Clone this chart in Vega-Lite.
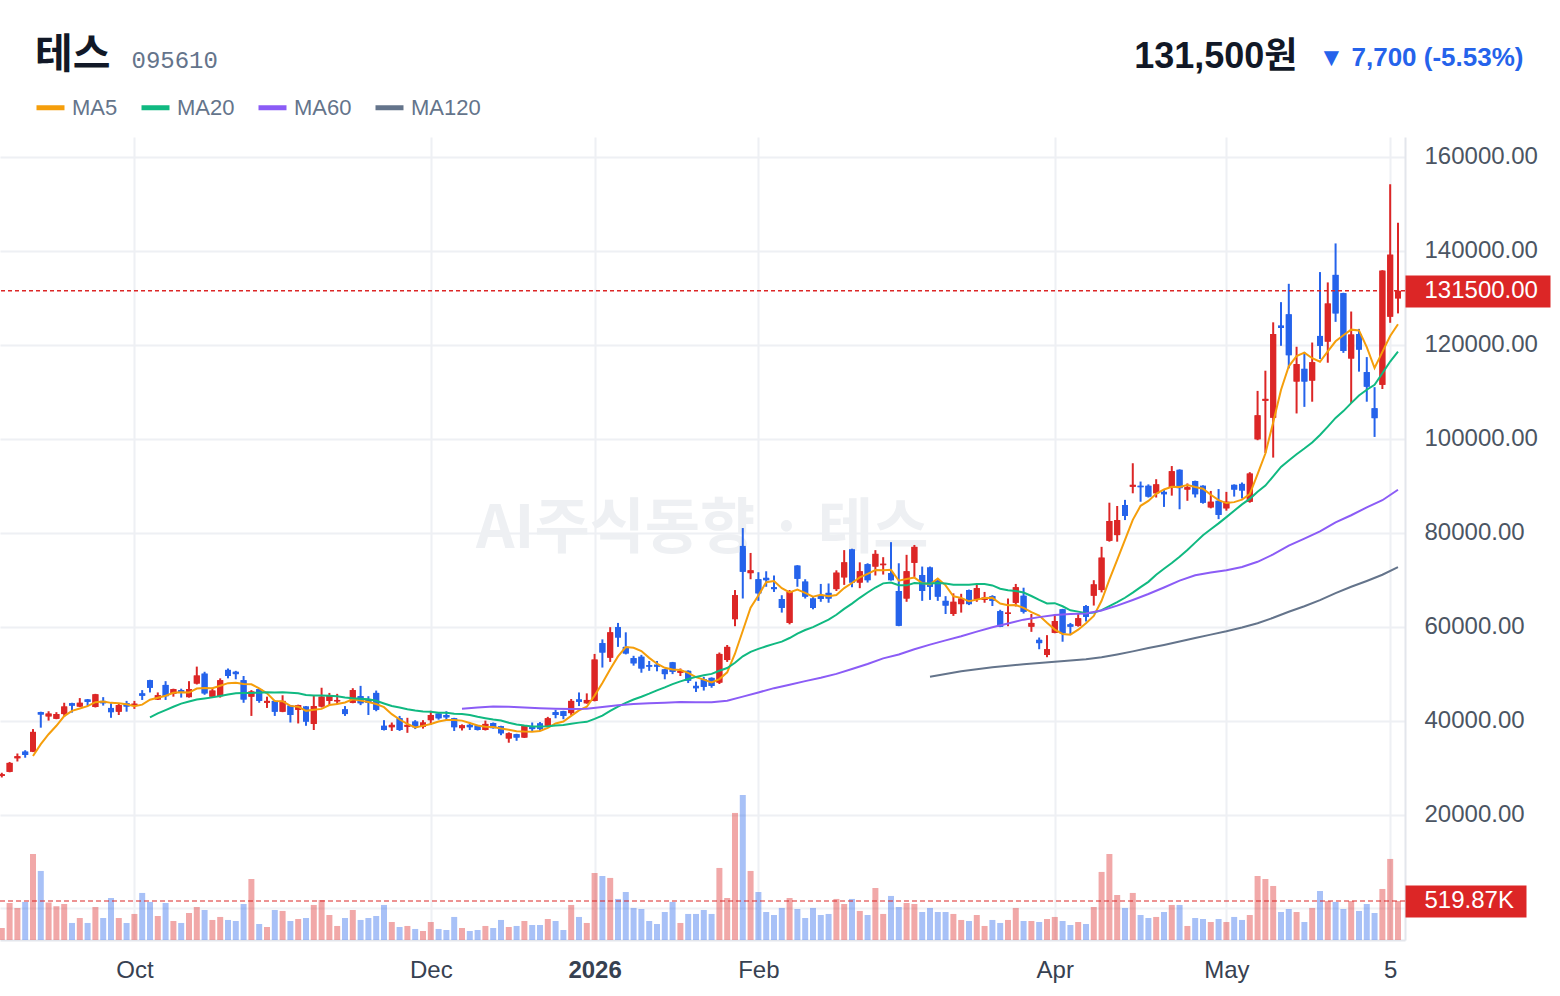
{
  "$schema": "https://vega.github.io/schema/vega-lite/v6.json",
  "width": 1405,
  "height": 803,
  "autosize": {"type": "none"},
  "padding": {"left": 0, "top": 137, "right": 155, "bottom": 56},
  "background": "#ffffff",
  "config": {
    "view": {"stroke": null},
    "font": "Liberation Sans, Noto Sans CJK KR, sans-serif",
    "axisX": {
      "labelFont": "Liberation Sans",
      "labelFontSize": 24,
      "labelColor": "#374151",
      "labelPadding": 18,
      "labelOverlap": false,
      "labelFlush": false,
      "ticks": false,
      "grid": true,
      "gridColor": "#eef0f4",
      "gridWidth": 2,
      "domain": true,
      "domainColor": "#e3e6ec",
      "domainWidth": 2
    }
  },
  "title": {
    "text": "테스",
    "anchor": "start",
    "frame": "group",
    "dx": 35,
    "dy": 71,
    "offset": 0,
    "baseline": "alphabetic",
    "font": "Noto Sans CJK KR",
    "fontSize": 41,
    "fontWeight": "bold",
    "color": "#111827"
  },
  "datasets": {
    "d": [
      {"k":0,"o":28200,"h":28900,"l":27900,"c":28600,"v":160000},
      {"k":1,"o":29100,"h":31200,"l":29000,"c":31000,"v":493000},
      {"k":2,"o":32000,"h":33000,"l":31300,"c":32400,"v":427000},
      {"k":3,"o":33400,"h":33700,"l":32100,"c":32700,"v":507000},
      {"k":4,"o":33400,"h":38200,"l":33300,"c":37600,"v":1146000,"MA5":32460},
      {"k":5,"o":41800,"h":41900,"l":38500,"c":41300,"v":920000,"MA5":35000},
      {"k":6,"o":40900,"h":42000,"l":40000,"c":41500,"v":500000,"MA5":37100},
      {"k":7,"o":40400,"h":41800,"l":40300,"c":41400,"v":450000,"MA5":38900},
      {"k":8,"o":41400,"h":43800,"l":40800,"c":43000,"v":480000,"MA5":40960},
      {"k":9,"o":43700,"h":43800,"l":41700,"c":43200,"v":227000,"MA5":42080},
      {"k":10,"o":43000,"h":44800,"l":42900,"c":43800,"v":293000,"MA5":42580},
      {"k":11,"o":44500,"h":44600,"l":43100,"c":44000,"v":227000,"MA5":43080},
      {"k":12,"o":42900,"h":45700,"l":42800,"c":45600,"v":440000,"MA5":43920},
      {"k":13,"o":44200,"h":45000,"l":43200,"c":43700,"v":293000,"MA5":44060},
      {"k":14,"o":42700,"h":43700,"l":40600,"c":41800,"v":560000,"MA5":43780},
      {"k":15,"o":41900,"h":43700,"l":41200,"c":43300,"v":293000,"MA5":43680},
      {"k":16,"o":43700,"h":44200,"l":41900,"c":43000,"v":227000,"MA5":43480},
      {"k":17,"o":43200,"h":44200,"l":42500,"c":43600,"v":347000,"MA5":43080},
      {"k":18,"o":45800,"h":46500,"l":44400,"c":45300,"v":627000,"MA5":43400},
      {"k":19,"o":48600,"h":48700,"l":46000,"c":47000,"v":507000,"MA5":44440,"MA20":40690},
      {"k":20,"o":44500,"h":46000,"l":44400,"c":45400,"v":320000,"MA5":44860,"MA20":41530},
      {"k":21,"o":47600,"h":48400,"l":44400,"c":45200,"v":493000,"MA5":45300,"MA20":42240},
      {"k":22,"o":45700,"h":46800,"l":45100,"c":46700,"v":253000,"MA5":45920,"MA20":42955},
      {"k":23,"o":46500,"h":46800,"l":44900,"c":45900,"v":227000,"MA5":46040,"MA20":43615},
      {"k":24,"o":45000,"h":48400,"l":44900,"c":46700,"v":360000,"MA5":45980,"MA20":44070},
      {"k":25,"o":47900,"h":51500,"l":47700,"c":49600,"v":440000,"MA5":46820,"MA20":44485},
      {"k":26,"o":50000,"h":50400,"l":45500,"c":45800,"v":400000,"MA5":46940,"MA20":44700},
      {"k":27,"o":45100,"h":47000,"l":44900,"c":46400,"v":267000,"MA5":46880,"MA20":44950},
      {"k":28,"o":45200,"h":49000,"l":44900,"c":48600,"v":307000,"MA5":47420,"MA20":45230},
      {"k":29,"o":50800,"h":51100,"l":49000,"c":49500,"v":267000,"MA5":47980,"MA20":45545},
      {"k":30,"o":50400,"h":50600,"l":48800,"c":49900,"v":253000,"MA5":48040,"MA20":45850},
      {"k":31,"o":48600,"h":49500,"l":43800,"c":44500,"v":480000,"MA5":47780,"MA20":45875},
      {"k":32,"o":45100,"h":46500,"l":41000,"c":46200,"v":813000,"MA5":47740,"MA20":45905},
      {"k":33,"o":46700,"h":46800,"l":43800,"c":44200,"v":213000,"MA5":46860,"MA20":45930},
      {"k":34,"o":43800,"h":45100,"l":42700,"c":44200,"v":173000,"MA5":45800,"MA20":46050},
      {"k":35,"o":44200,"h":44300,"l":41000,"c":41900,"v":400000,"MA5":44200,"MA20":45980},
      {"k":36,"o":41900,"h":45400,"l":41800,"c":44200,"v":387000,"MA5":44140,"MA20":46040},
      {"k":37,"o":43200,"h":43300,"l":39600,"c":41200,"v":253000,"MA5":43140,"MA20":45920},
      {"k":38,"o":42300,"h":43400,"l":39400,"c":43300,"v":280000,"MA5":42960,"MA20":45820},
      {"k":39,"o":43000,"h":43100,"l":38900,"c":39800,"v":293000,"MA5":42080,"MA20":45460},
      {"k":40,"o":39300,"h":45400,"l":38000,"c":43100,"v":467000,"MA5":42320,"MA20":45345},
      {"k":41,"o":43000,"h":47000,"l":42800,"c":45100,"v":533000,"MA5":42500,"MA20":45340},
      {"k":42,"o":44200,"h":45900,"l":43300,"c":45300,"v":333000,"MA5":43320,"MA20":45270},
      {"k":43,"o":44100,"h":45700,"l":43500,"c":44400,"v":187000,"MA5":43540,"MA20":45195},
      {"k":44,"o":42400,"h":43100,"l":41000,"c":41400,"v":293000,"MA5":43860,"MA20":44930},
      {"k":45,"o":43800,"h":46900,"l":43700,"c":46500,"v":400000,"MA5":44540,"MA20":44775},
      {"k":46,"o":45200,"h":47400,"l":43300,"c":43700,"v":267000,"MA5":44260,"MA20":44670},
      {"k":47,"o":44400,"h":45200,"l":41200,"c":43800,"v":293000,"MA5":43960,"MA20":44540},
      {"k":48,"o":45900,"h":46400,"l":42000,"c":42300,"v":320000,"MA5":43540,"MA20":44225},
      {"k":49,"o":38900,"h":40100,"l":37900,"c":38000,"v":467000,"MA5":42860,"MA20":43650},
      {"k":50,"o":38600,"h":39600,"l":37800,"c":39100,"v":240000,"MA5":41380,"MA20":43110},
      {"k":51,"o":40500,"h":41000,"l":37800,"c":38000,"v":173000,"MA5":40240,"MA20":42785},
      {"k":52,"o":38700,"h":40600,"l":37400,"c":39100,"v":187000,"MA5":39300,"MA20":42430},
      {"k":53,"o":39800,"h":40100,"l":38200,"c":38600,"v":147000,"MA5":38560,"MA20":42150},
      {"k":54,"o":38700,"h":40100,"l":38300,"c":39600,"v":120000,"MA5":38880,"MA20":41920},
      {"k":55,"o":40100,"h":42100,"l":39100,"c":41200,"v":240000,"MA5":39300,"MA20":41885},
      {"k":56,"o":41500,"h":41600,"l":40200,"c":40500,"v":147000,"MA5":39800,"MA20":41700},
      {"k":57,"o":41200,"h":42000,"l":40100,"c":40700,"v":133000,"MA5":40120,"MA20":41675},
      {"k":58,"o":40500,"h":40600,"l":37800,"c":38600,"v":307000,"MA5":40120,"MA20":41440},
      {"k":59,"o":38400,"h":39200,"l":37900,"c":39000,"v":160000,"MA5":40000,"MA20":41400,"MA60":42517},
      {"k":60,"o":39100,"h":39600,"l":38000,"c":38600,"v":120000,"MA5":39480,"MA20":41175},
      {"k":61,"o":39000,"h":39100,"l":37900,"c":38000,"v":133000,"MA5":38980,"MA20":40820,"MA60":42800},
      {"k":62,"o":38000,"h":40000,"l":37900,"c":39300,"v":187000,"MA5":38700,"MA20":40520},
      {"k":63,"o":39500,"h":39600,"l":38300,"c":38400,"v":160000,"MA5":38660,"MA20":40220,"MA60":43010},
      {"k":64,"o":38800,"h":38900,"l":36900,"c":37300,"v":267000,"MA5":38320,"MA20":40015},
      {"k":65,"o":36200,"h":37500,"l":35300,"c":37300,"v":173000,"MA5":38060,"MA20":39555,"MA60":42938},
      {"k":66,"o":37100,"h":37200,"l":35700,"c":36400,"v":187000,"MA5":37740,"MA20":39190},
      {"k":67,"o":36400,"h":39000,"l":36300,"c":38900,"v":253000,"MA5":37660,"MA20":38945,"MA60":42812},
      {"k":68,"o":38700,"h":39600,"l":37600,"c":38200,"v":200000,"MA5":37620,"MA20":38740},
      {"k":69,"o":39400,"h":39700,"l":37800,"c":38200,"v":200000,"MA5":37800,"MA20":38750,"MA60":42648},
      {"k":70,"o":38900,"h":40800,"l":38700,"c":40500,"v":280000,"MA5":38440,"MA20":38820},
      {"k":71,"o":41800,"h":42300,"l":40500,"c":41200,"v":253000,"MA5":39400,"MA20":38980,"MA60":42547},
      {"k":72,"o":42000,"h":42100,"l":40300,"c":41000,"v":133000,"MA5":39820,"MA20":39075},
      {"k":73,"o":41600,"h":44600,"l":41200,"c":44200,"v":467000,"MA5":41020,"MA20":39355,"MA60":42478},
      {"k":74,"o":44500,"h":46000,"l":43100,"c":44000,"v":307000,"MA5":42180,"MA20":39575},
      {"k":75,"o":43700,"h":45800,"l":43600,"c":44400,"v":227000,"MA5":42960,"MA20":39735,"MA60":42533},
      {"k":76,"o":44200,"h":54200,"l":44100,"c":53000,"v":893000,"MA5":45320,"MA20":40360},
      {"k":77,"o":56500,"h":57300,"l":51300,"c":54500,"v":853000,"MA5":48020,"MA20":41050,"MA60":42882},
      {"k":78,"o":53400,"h":59900,"l":52500,"c":58800,"v":827000,"MA5":50940,"MA20":42060},
      {"k":79,"o":59900,"h":60800,"l":55700,"c":57700,"v":547000,"MA5":53680,"MA20":42995,"MA60":43285},
      {"k":80,"o":55700,"h":58800,"l":54100,"c":54300,"v":640000,"MA5":55660,"MA20":43780},
      {"k":81,"o":53300,"h":53800,"l":51700,"c":52200,"v":427000,"MA5":55500,"MA20":44490,"MA60":43550},
      {"k":82,"o":53600,"h":54000,"l":50200,"c":51100,"v":413000,"MA5":54820,"MA20":45080},
      {"k":83,"o":51800,"h":52700,"l":50600,"c":51500,"v":253000,"MA5":53360,"MA20":45735,"MA60":43717},
      {"k":84,"o":51900,"h":52700,"l":50500,"c":51500,"v":213000,"MA5":52120,"MA20":46445},
      {"k":85,"o":50900,"h":51000,"l":48800,"c":49900,"v":373000,"MA5":51240,"MA20":47075,"MA60":43802},
      {"k":86,"o":52400,"h":52500,"l":49900,"c":50400,"v":507000,"MA5":50880,"MA20":47775},
      {"k":87,"o":50200,"h":51100,"l":49500,"c":50600,"v":227000,"MA5":50780,"MA20":48360,"MA60":43948},
      {"k":88,"o":50600,"h":50700,"l":48000,"c":48500,"v":347000,"MA5":50180,"MA20":48875},
      {"k":89,"o":47400,"h":48300,"l":46100,"c":46900,"v":347000,"MA5":49260,"MA20":49310,"MA60":43903},
      {"k":90,"o":48800,"h":49300,"l":46400,"c":47200,"v":400000,"MA5":48720,"MA20":49645},
      {"k":91,"o":49100,"h":49200,"l":47000,"c":47400,"v":347000,"MA5":48120,"MA20":49955,"MA60":43907},
      {"k":92,"o":48100,"h":54500,"l":47800,"c":54200,"v":960000,"MA5":48840,"MA20":50615},
      {"k":93,"o":52900,"h":56100,"l":52500,"c":55700,"v":560000,"MA5":50280,"MA20":51190,"MA60":44232},
      {"k":94,"o":61600,"h":67800,"l":60100,"c":66700,"v":1693000,"MA5":54240,"MA20":52325},
      {"k":95,"o":77200,"h":81000,"l":66000,"c":71700,"v":1933000,"MA5":59140,"MA20":53690,"MA60":45103},
      {"k":96,"o":71400,"h":75700,"l":70100,"c":72000,"v":920000,"MA5":64060,"MA20":54640},
      {"k":97,"o":70100,"h":71600,"l":65500,"c":67100,"v":640000,"MA5":66640,"MA20":55270,"MA60":45998},
      {"k":98,"o":70400,"h":71800,"l":68500,"c":69900,"v":373000,"MA5":69480,"MA20":55825},
      {"k":99,"o":68400,"h":70900,"l":67400,"c":68000,"v":333000,"MA5":69740,"MA20":56340,"MA60":46912},
      {"k":100,"o":65900,"h":66700,"l":63000,"c":64000,"v":427000,"MA5":68200,"MA20":56825},
      {"k":101,"o":60800,"h":67800,"l":60500,"c":67400,"v":560000,"MA5":67280,"MA20":57585,"MA60":47632},
      {"k":102,"o":73000,"h":73100,"l":68500,"c":70200,"v":413000,"MA5":67900,"MA20":58540},
      {"k":103,"o":69600,"h":70100,"l":66000,"c":66400,"v":293000,"MA5":67200,"MA20":59285,"MA60":48413},
      {"k":104,"o":66000,"h":66400,"l":63700,"c":64000,"v":427000,"MA5":66400,"MA20":59910},
      {"k":105,"o":66700,"h":69100,"l":65300,"c":65900,"v":333000,"MA5":66780,"MA20":60710,"MA60":49113},
      {"k":106,"o":67200,"h":69200,"l":65100,"c":66000,"v":347000,"MA5":66500,"MA20":61490},
      {"k":107,"o":68000,"h":72000,"l":67600,"c":71500,"v":547000,"MA5":66760,"MA20":62535,"MA60":49947},
      {"k":108,"o":70500,"h":76300,"l":68900,"c":73700,"v":480000,"MA5":68220,"MA20":63795},
      {"k":109,"o":76500,"h":76600,"l":68400,"c":69400,"v":547000,"MA5":69300,"MA20":64920,"MA60":50993},
      {"k":110,"o":69400,"h":73700,"l":68200,"c":71800,"v":387000,"MA5":70480,"MA20":66150},
      {"k":111,"o":73300,"h":73500,"l":69400,"c":69900,"v":333000,"MA5":71260,"MA20":67275,"MA60":52070},
      {"k":112,"o":72800,"h":76300,"l":70900,"c":75500,"v":693000,"MA5":72060,"MA20":68340},
      {"k":113,"o":73100,"h":74800,"l":71100,"c":73400,"v":347000,"MA5":72000,"MA20":69225,"MA60":53257},
      {"k":114,"o":71400,"h":78000,"l":69800,"c":69900,"v":587000,"MA5":72100,"MA20":69385},
      {"k":115,"o":67600,"h":73500,"l":60100,"c":60200,"v":440000,"MA5":69780,"MA20":68810,"MA60":54078},
      {"k":116,"o":66000,"h":75300,"l":65300,"c":71800,"v":493000,"MA5":70160,"MA20":68800},
      {"k":117,"o":73600,"h":77400,"l":70600,"c":77000,"v":480000,"MA5":70460,"MA20":69295,"MA60":55205},
      {"k":118,"o":71000,"h":72800,"l":65500,"c":67600,"v":373000,"MA5":69300,"MA20":69180},
      {"k":119,"o":72600,"h":72800,"l":65700,"c":68500,"v":427000,"MA5":69020,"MA20":69205,"MA60":56180,"MA120":49348},
      {"k":120,"o":69800,"h":69900,"l":65500,"c":66400,"v":373000,"MA5":70260,"MA20":69325},
      {"k":121,"o":65500,"h":66500,"l":62700,"c":64500,"v":373000,"MA5":68800,"MA20":69180,"MA60":57085,"MA120":49943},
      {"k":122,"o":62700,"h":67100,"l":62300,"c":65300,"v":347000,"MA5":66460,"MA20":68935},
      {"k":123,"o":64800,"h":67000,"l":63000,"c":66000,"v":267000,"MA5":66140,"MA20":68915,"MA60":57978,"MA120":50494},
      {"k":124,"o":67800,"h":67900,"l":64600,"c":64800,"v":253000,"MA5":65400,"MA20":68955},
      {"k":125,"o":65800,"h":68900,"l":65300,"c":68200,"v":333000,"MA5":65760,"MA20":69070,"MA60":58952,"MA120":50945},
      {"k":126,"o":65700,"h":67400,"l":65100,"c":66200,"v":187000,"MA5":66100,"MA20":69080},
      {"k":127,"o":66500,"h":66700,"l":64400,"c":65500,"v":267000,"MA5":66140,"MA20":68780,"MA60":59892,"MA120":51352},
      {"k":128,"o":63300,"h":63600,"l":59900,"c":60000,"v":227000,"MA5":64940,"MA20":68095},
      {"k":129,"o":62700,"h":66000,"l":60100,"c":63000,"v":267000,"MA5":64580,"MA20":67775,"MA60":60668,"MA120":51658},
      {"k":130,"o":65100,"h":69100,"l":64300,"c":68400,"v":427000,"MA5":64620,"MA20":67605},
      {"k":131,"o":66600,"h":68300,"l":62800,"c":63200,"v":253000,"MA5":64020,"MA20":67270,"MA60":61500,"MA120":52023},
      {"k":132,"o":60000,"h":62700,"l":58900,"c":60800,"v":253000,"MA5":63080,"MA20":66535},
      {"k":133,"o":57200,"h":57700,"l":55200,"c":56500,"v":240000,"MA5":62380,"MA20":65690,"MA60":62035,"MA120":52257},
      {"k":134,"o":54000,"h":58200,"l":53500,"c":55200,"v":280000,"MA5":60820,"MA20":64955},
      {"k":135,"o":58700,"h":62600,"l":58600,"c":61200,"v":307000,"MA5":59380,"MA20":65005,"MA60":62502,"MA120":52518},
      {"k":136,"o":63700,"h":63800,"l":56800,"c":58600,"v":253000,"MA5":58460,"MA20":64345},
      {"k":137,"o":60500,"h":60800,"l":58400,"c":60000,"v":200000,"MA5":58300,"MA20":63495,"MA60":62687,"MA120":52784},
      {"k":138,"o":60200,"h":62700,"l":60000,"c":61800,"v":240000,"MA5":59360,"MA20":63205},
      {"k":139,"o":64400,"h":64600,"l":61100,"c":62100,"v":213000,"MA5":60740,"MA20":62885,"MA60":62810,"MA120":53048},
      {"k":140,"o":66600,"h":69900,"l":64500,"c":69000,"v":440000,"MA5":62300,"MA20":63015},
      {"k":141,"o":67800,"h":77000,"l":67300,"c":74700,"v":907000,"MA5":65520,"MA20":63525,"MA60":63430,"MA120":53490},
      {"k":142,"o":78300,"h":86400,"l":78100,"c":82500,"v":1146000,"MA5":70020,"MA20":64385},
      {"k":143,"o":79500,"h":85700,"l":78100,"c":82700,"v":600000,"MA5":74200,"MA20":65220,"MA60":64473,"MA120":54095},
      {"k":144,"o":85900,"h":87000,"l":82700,"c":83600,"v":427000,"MA5":78500,"MA20":66160},
      {"k":145,"o":89800,"h":94800,"l":88400,"c":90200,"v":627000,"MA5":82740,"MA20":67260,"MA60":65680,"MA120":54741},
      {"k":146,"o":90000,"h":90900,"l":86600,"c":89700,"v":333000,"MA5":85740,"MA20":68435},
      {"k":147,"o":90000,"h":90300,"l":87500,"c":87700,"v":293000,"MA5":86780,"MA20":69545,"MA60":66953,"MA120":55451},
      {"k":148,"o":88400,"h":91400,"l":87500,"c":90300,"v":307000,"MA5":88300,"MA20":71060},
      {"k":149,"o":88700,"h":89200,"l":85500,"c":88200,"v":373000,"MA5":89220,"MA20":72320,"MA60":68338,"MA120":56121},
      {"k":150,"o":89700,"h":94200,"l":87900,"c":93100,"v":467000,"MA5":89800,"MA20":73555},
      {"k":151,"o":93400,"h":93500,"l":85000,"c":89500,"v":467000,"MA5":89760,"MA20":74870,"MA60":69805,"MA120":56856},
      {"k":152,"o":89200,"h":90500,"l":86800,"c":89700,"v":187000,"MA5":90160,"MA20":76315},
      {"k":153,"o":91000,"h":91100,"l":87500,"c":88200,"v":293000,"MA5":89740,"MA20":77900,"MA60":70938,"MA120":57585},
      {"k":154,"o":90000,"h":90100,"l":86200,"c":86400,"v":280000,"MA5":89380,"MA20":79460},
      {"k":155,"o":85400,"h":88900,"l":85200,"c":86600,"v":240000,"MA5":88080,"MA20":80730,"MA60":71515,"MA120":58309},
      {"k":156,"o":86800,"h":89300,"l":82900,"c":83800,"v":280000,"MA5":86940,"MA20":81990},
      {"k":157,"o":85200,"h":88700,"l":84700,"c":86600,"v":240000,"MA5":86320,"MA20":83320,"MA60":72037,"MA120":59018},
      {"k":158,"o":90200,"h":90300,"l":87700,"c":89200,"v":307000,"MA5":86520,"MA20":84690},
      {"k":159,"o":90400,"h":90700,"l":87300,"c":89000,"v":267000,"MA5":87040,"MA20":86035,"MA60":72708,"MA120":59810},
      {"k":160,"o":86600,"h":92900,"l":86400,"c":92600,"v":333000,"MA5":88240,"MA20":87215},
      {"k":161,"o":99900,"h":110200,"l":99700,"c":105000,"v":853000,"MA5":92480,"MA20":88730,"MA60":73812,"MA120":60722},
      {"k":162,"o":108100,"h":114500,"l":97000,"c":108500,"v":813000,"MA5":96860,"MA20":90030},
      {"k":163,"o":104500,"h":124800,"l":96000,"c":122300,"v":720000,"MA5":103480,"MA20":92010,"MA60":75382,"MA120":61898},
      {"k":164,"o":124100,"h":129100,"l":119800,"c":123600,"v":373000,"MA5":110400,"MA20":94010},
      {"k":165,"o":126500,"h":133000,"l":115000,"c":117800,"v":413000,"MA5":115440,"MA20":95390,"MA60":77240,"MA120":63177},
      {"k":166,"o":112200,"h":119600,"l":105400,"c":115900,"v":373000,"MA5":117620,"MA20":96700},
      {"k":167,"o":114900,"h":118500,"l":106800,"c":112200,"v":240000,"MA5":118360,"MA20":97925,"MA60":78750,"MA120":64348},
      {"k":168,"o":112400,"h":120500,"l":107900,"c":116300,"v":427000,"MA5":117160,"MA20":99225},
      {"k":169,"o":121900,"h":135500,"l":117000,"c":119800,"v":653000,"MA5":116400,"MA20":100805,"MA60":80300,"MA120":65647},
      {"k":170,"o":120700,"h":133300,"l":116200,"c":128800,"v":520000,"MA5":118600,"MA20":102590},
      {"k":171,"o":134900,"h":141600,"l":124900,"c":126700,"v":507000,"MA5":120760,"MA20":104450,"MA60":82197,"MA120":67133},
      {"k":172,"o":131000,"h":131100,"l":118300,"c":118700,"v":413000,"MA5":122060,"MA20":105900},
      {"k":173,"o":117100,"h":127100,"l":107600,"c":122200,"v":520000,"MA5":123240,"MA20":107600,"MA60":83730,"MA120":68493},
      {"k":174,"o":122300,"h":123400,"l":114300,"c":119000,"v":387000,"MA5":123080,"MA20":109230},
      {"k":175,"o":114200,"h":117400,"l":107900,"c":111100,"v":480000,"MA5":119540,"MA20":110455,"MA60":85397,"MA120":69738},
      {"k":176,"o":106500,"h":111000,"l":100400,"c":104400,"v":360000,"MA5":115080,"MA20":111485},
      {"k":177,"o":111500,"h":135900,"l":110600,"c":135800,"v":680000,"MA5":118500,"MA20":113945,"MA60":86920,"MA120":71063},
      {"k":178,"o":126000,"h":154200,"l":124700,"c":139200,"v":1080000,"MA5":121900,"MA20":116445},
      {"k":179,"o":129900,"h":146000,"l":126700,"c":131500,"v":519870,"MA5":124400,"MA20":118570,"MA60":89163,"MA120":72672}
    ]
  },
  "data": {"name": "d"},
  "layer": [
    {
      "mark": {"type": "bar", "width": 6},
      "encoding": {
        "x": {
          "field": "k", "type": "quantitative",
          "scale": {"domain": [-0.23, 179.9], "nice": false, "zero": false, "padding": 0},
          "axis": {
            "values": [17, 55, 76, 97, 135, 157, 178],
            "labelExpr": "datum.value == 17 ? 'Oct' : datum.value == 55 ? 'Dec' : datum.value == 76 ? '2026' : datum.value == 97 ? 'Feb' : datum.value == 135 ? 'Apr' : datum.value == 157 ? 'May' : '5'",
            "labelFontWeight": {"condition": {"test": "datum.value == 76", "value": "bold"}, "value": "normal"},
            "title": "095610",
            "titleX": 131,
            "titleY": -873,
            "titleAlign": "left",
            "titleBaseline": "alphabetic",
            "titleFont": "Liberation Mono",
            "titleFontSize": 24,
            "titleFontWeight": "normal",
            "titleColor": "#64748b"
          }
        },
        "y": {
          "field": "o", "type": "quantitative",
          "scale": {"domain": [-6707, 164258], "nice": false, "zero": false},
          "axis": {
            "orient": "right",
            "values": [0, 20000, 40000, 60000, 80000, 100000, 120000, 140000, 160000],
            "labelExpr": "datum.value == 0 ? '' : format(datum.value, '.2f')",
            "labelFont": "Liberation Sans",
            "labelFontSize": 24,
            "labelColor": "#4b5563",
            "labelPadding": 19,
            "labelOverlap": false,
            "labelFlush": false,
            "ticks": false,
            "grid": true,
            "gridColor": "#eef0f4",
            "gridWidth": 2,
            "domain": true,
            "domainColor": "#e3e6ec",
            "domainWidth": 2,
            "title": "131,500원",
            "titleX": -108,
            "titleY": -70,
            "titleAngle": 0,
            "titleAlign": "right",
            "titleBaseline": "alphabetic",
            "titleFont": "Liberation Sans, Noto Sans CJK KR",
            "titleFontSize": 36,
            "titleFontWeight": "bold",
            "titleColor": "#111827"
          }
        },
        "y2": {"field": "c"},
        "color": {"condition": {"test": "datum.c >= datum.o", "value": "#dc2626"}, "value": "#2563eb"}
      }
    },
    {
      "data": {"values": [{"t": "AI주식동향 · 테스"}]},
      "mark": {"type": "text", "font": "Noto Sans CJK KR", "fontSize": 60, "fontWeight": "bold", "color": "#eef0f3", "align": "center", "baseline": "middle"},
      "encoding": {
        "x": {"datum": 89.8, "type": "quantitative"},
        "y": {"datum": 80600, "type": "quantitative", "scale": {"domain": [-6707, 164258], "nice": false, "zero": false}, "axis": null},
        "text": {"field": "t"}
      }
    },
    {
      "mark": {"type": "bar", "width": 6, "opacity": 0.4},
      "encoding": {
        "x": {"field": "k", "type": "quantitative"},
        "y": {
          "field": "v", "type": "quantitative",
          "scale": {"domain": [0, 10700000], "nice": false, "zero": true},
          "axis": {
            "orient": "right",
            "values": [519870],
            "labelExpr": "format(datum.value / 1000, '.2f') + 'K'",
            "labelFont": "Liberation Sans",
            "labelFontSize": 24,
            "labelColor": "#ffffff",
            "labelPadding": -102,
            "labelOverlap": false,
            "labelFlush": false,
            "ticks": true,
            "tickSize": 121,
            "tickWidth": 32,
            "tickColor": "#dc2626",
            "grid": false,
            "domain": false,
            "title": "▼ 7,700 (-5.53%)",
            "titleX": 118,
            "titleY": -72,
            "titleAngle": 0,
            "titleAlign": "right",
            "titleBaseline": "alphabetic",
            "titleFont": "Liberation Sans",
            "titleFontSize": 26,
            "titleFontWeight": "bold",
            "titleColor": "#2563eb",
            "zindex": 2
          }
        },
        "color": {"condition": {"test": "datum.c >= datum.o", "value": "#dc2626"}, "value": "#2563eb"}
      }
    },
    {
      "transform": [{"filter": "datum.k == 179"}],
      "mark": {"type": "rule", "color": "#dc2626", "opacity": 0.5, "strokeDash": [5, 3], "strokeWidth": 2},
      "encoding": {
        "y": {"field": "v", "type": "quantitative", "scale": {"domain": [0, 10700000], "nice": false, "zero": true}, "axis": null}
      }
    },
    {
      "mark": {"type": "rule", "strokeWidth": 2},
      "encoding": {
        "x": {"field": "k", "type": "quantitative"},
        "y": {"field": "l", "type": "quantitative", "scale": {"domain": [-6707, 164258], "nice": false, "zero": false}, "axis": null},
        "y2": {"field": "h"},
        "color": {"condition": {"test": "datum.c >= datum.o", "value": "#dc2626"}, "value": "#2563eb"}
      }
    },
    {
      "mark": {"type": "bar", "width": 6},
      "encoding": {
        "x": {"field": "k", "type": "quantitative"},
        "y": {"field": "o", "type": "quantitative", "scale": {"domain": [-6707, 164258], "nice": false, "zero": false}, "axis": null},
        "y2": {"field": "c"},
        "color": {"condition": {"test": "datum.c >= datum.o", "value": "#dc2626"}, "value": "#2563eb"}
      }
    },
    {
      "transform": [
        {"fold": ["MA5", "MA20", "MA60", "MA120"], "as": ["series", "val"]},
        {"filter": "isValid(datum.val)"}
      ],
      "mark": {"type": "line", "strokeWidth": 2, "invalid": "filter"},
      "encoding": {
        "x": {"field": "k", "type": "quantitative"},
        "y": {"field": "val", "type": "quantitative", "scale": {"domain": [-6707, 164258], "nice": false, "zero": false}, "axis": null},
        "color": {
          "field": "series", "type": "nominal",
          "scale": {"domain": ["MA5", "MA20", "MA60", "MA120"], "range": ["#f59e0b", "#10b981", "#8b5cf6", "#64748b"]},
          "legend": {
            "orient": "none",
            "legendX": 34,
            "legendY": -46,
            "direction": "horizontal",
            "title": null,
            "symbolType": "stroke",
            "symbolStrokeWidth": 5,
            "symbolSize": 784,
            "labelFont": "Liberation Sans",
            "labelFontSize": 22,
            "labelColor": "#64748b",
            "labelOffset": 5,
            "columnPadding": 13,
            "padding": 0
          }
        }
      }
    },
    {
      "transform": [{"filter": "datum.k == 179"}],
      "mark": {"type": "rule", "color": "#dc2626", "strokeDash": [4, 3], "strokeWidth": 1.5},
      "encoding": {
        "y": {
          "field": "c", "type": "quantitative",
          "scale": {"domain": [-6707, 164258], "nice": false, "zero": false},
          "axis": {
            "orient": "right",
            "values": [131500],
            "format": ".2f",
            "labelFont": "Liberation Sans",
            "labelFontSize": 24,
            "labelColor": "#ffffff",
            "labelPadding": -126,
            "labelOverlap": false,
            "labelFlush": false,
            "ticks": true,
            "tickSize": 145,
            "tickWidth": 32,
            "tickColor": "#dc2626",
            "grid": false,
            "domain": false,
            "title": null,
            "zindex": 2
          }
        }
      }
    }
  ],
  "resolve": {"scale": {"y": "independent"}, "axis": {"y": "independent"}}
}
